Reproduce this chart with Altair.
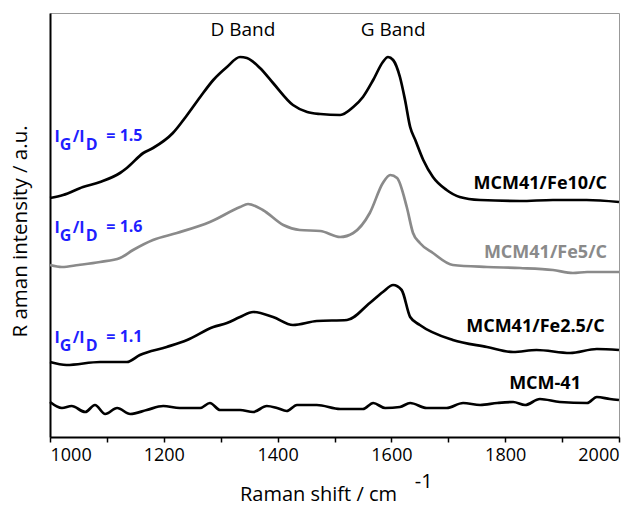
import altair as alt
import pandas as pd

FONT = "Open Sans"

# ---- spectra (x: Raman shift cm-1, y: intensity a.u., offset stacked) ----
fe10_x = [1000,1023,1058,1088,1123,1135,1164,1181,1216,1241,1264,1287,1311,1334,1346,1369,1392,1427,1452,1475,
          1510,1533,1550,1568,1585,1594,1603,1615,1624,1633,1642,1656,1673,1697,1720,1756,1826,1884,1943,2000]
fe10_y = [239,242,250,255,264,269,284,289,304,322,340,357,370,380,379,369,354,332,325,323,
          322,330,340,357,375,380,377,360,337,310,297,277,260,247,240,237,236,237,237,235]

fe5_x = [1000,1021,1050,1088,1123,1146,1181,1223,1281,1334,1348,1374,1410,1439,1475,1510,1533,1562,1585,1598,
         1610,1627,1638,1650,1673,1708,1768,1826,1884,1919,1944,2000]
fe5_y = [172,170,172,175,179,187,197,204,215,230,233,227,212,207,206,200,204,224,254,262,
         259,230,204,194,184,172,170,169,167,164,165,165]

fe25_x = [1000,1029,1088,1135,1158,1205,1241,1287,1311,1334,1357,1392,1427,1469,1522,1562,1585,1603,1618,1633,
          1650,1708,1768,1814,1855,1914,1961,2000]
fe25_y = [75,72,75,75,82,90,97,110,114,120,125,120,112,116,117,134,145,152,147,120,
          112,97,90,85,87,84,88,87]

mcm_x = [1000,1021,1038,1062,1079,1097,1118,1141,1170,1199,1228,1264,1281,1299,1334,1357,1381,1399,1416,1434,
         1469,1510,1550,1568,1589,1615,1633,1662,1697,1726,1756,1786,1814,1835,1861,1896,1944,1961,1984,2000]
mcm_y = [35,29,31,25,32,23,29,23,27,31,29,29,34,27,27,25,31,29,26,32,
         32,28,28,34,29,30,34,29,29,34,32,34,35,32,38,35,34,40,38,37]

series_names = ["MCM41/Fe10/C", "MCM41/Fe5/C", "MCM41/Fe2.5/C", "MCM-41"]
series_colors = ["#000000", "#8a8a8a", "#000000", "#000000"]

rows = []
for name, xs, ys in zip(series_names, [fe10_x, fe5_x, fe25_x, mcm_x], [fe10_y, fe5_y, fe25_y, mcm_y]):
    for i, (a, b) in enumerate(zip(xs, ys)):
        rows.append({"series": name, "shift": a, "intensity": b, "order": i})
spec = pd.DataFrame(rows)

# ---- annotations ----
band_text = ["D Band", "G Band"]
band_x = [1339, 1603]
band_y = [401, 401]

lab_text = ["MCM41/Fe10/C", "MCM41/Fe5/C", "MCM41/Fe2.5/C"]
lab_x = [1979, 1979, 1975]
lab_y = [248, 179, 105]
lab_col = ["#000000", "#8a8a8a", "#000000"]

mcm_lab = pd.DataFrame({"t": ["MCM-41"], "x": [1870], "y": [48]})

ratio_vals = ["= 1.5", "= 1.6", "= 1.1"]
ratio_base = [295, 204, 94]

main_rows, sub_rows, val_rows = [], [], []
for v, b in zip(ratio_vals, ratio_base):
    main_rows += [{"t": "I", "x": 1008, "y": b}, {"t": "/I", "x": 1040, "y": b}]
    sub_rows += [{"t": "G", "x": 1017, "y": b - 8}, {"t": "D", "x": 1063, "y": b - 8}]
    val_rows += [{"t": v, "x": 1099, "y": b + 1}]

xscale = alt.Scale(domain=[1000, 2000], nice=False, zero=False)
yscale = alt.Scale(domain=[0, 424], nice=False, zero=False)

lines = alt.Chart(spec).mark_line(strokeWidth=2.7, interpolate="monotone").encode(
    x=alt.X("shift:Q", scale=xscale,
            axis=alt.Axis(values=list(range(1000, 2001, 100)), format="d",
                          labelExpr="datum.value % 200 == 0 ? datum.label : ''",
                          grid=False, tickSize=5, tickColor="black", tickWidth=1.5,
                          domainColor="black", domainWidth=2,
                          labelFont=FONT, labelFontSize=18, labelColor="black", labelPadding=4,
                          title="Raman shift / cm", titleFont=FONT, titleFontSize=20,
                          titleFontWeight="normal", titleColor="black",
                          titleX=268, titleY=63, titleBaseline="alphabetic", titleAlign="center")),
    y=alt.Y("intensity:Q", scale=yscale,
            axis=alt.Axis(labels=False, ticks=False, grid=False,
                          domainColor="black", domainWidth=2,
                          title="R aman intensity / a.u.", titleFont=FONT, titleFontSize=20.5,
                          titleFontWeight="normal", titleColor="black", titleAngle=270,
                          titleX=-24, titleY=218, titleBaseline="alphabetic", titleAlign="center")),
    color=alt.Color("series:N", scale=alt.Scale(domain=series_names, range=series_colors), legend=None),
    order="order:Q",
)

bands = alt.Chart(pd.DataFrame({"t": band_text, "x": band_x, "y": band_y})).mark_text(
    font=FONT, fontSize=19, color="black", align="center", baseline="alphabetic"
).encode(x=alt.X("x:Q", scale=xscale), y=alt.Y("y:Q", scale=yscale), text="t:N")

labels = alt.Chart(pd.DataFrame({"t": lab_text, "x": lab_x, "y": lab_y, "c": lab_col})).mark_text(
    font=FONT, fontSize=18, fontWeight="bold", align="right", baseline="alphabetic"
).encode(x=alt.X("x:Q", scale=xscale), y=alt.Y("y:Q", scale=yscale), text="t:N",
         color=alt.Color("c:N", scale=None))

mcm_text = alt.Chart(mcm_lab).mark_text(
    font=FONT, fontSize=18, fontWeight="bold", align="center", baseline="alphabetic", color="black"
).encode(x=alt.X("x:Q", scale=xscale), y=alt.Y("y:Q", scale=yscale), text="t:N")

BLUE = "#1f1fff"
r_main = alt.Chart(pd.DataFrame(main_rows)).mark_text(
    font=FONT, fontSize=16, fontWeight="bold", align="left", baseline="alphabetic", color=BLUE
).encode(x=alt.X("x:Q", scale=xscale), y=alt.Y("y:Q", scale=yscale), text="t:N")
r_sub = alt.Chart(pd.DataFrame(sub_rows)).mark_text(
    font=FONT, fontSize=16, fontWeight="bold", align="left", baseline="alphabetic", color=BLUE
).encode(x=alt.X("x:Q", scale=xscale), y=alt.Y("y:Q", scale=yscale), text="t:N")
r_val = alt.Chart(pd.DataFrame(val_rows)).mark_text(
    font=FONT, fontSize=16, fontWeight="bold", align="left", baseline="alphabetic", color=BLUE
).encode(x=alt.X("x:Q", scale=xscale), y=alt.Y("y:Q", scale=yscale), text="t:N")

sup = alt.Chart(pd.DataFrame({"t": ["-1"], "x": [1641], "y": [-51]})).mark_text(
    font=FONT, fontSize=20, align="left", baseline="alphabetic", color="black"
).encode(x=alt.X("x:Q", scale=xscale), y=alt.Y("y:Q", scale=yscale), text="t:N")

chart = alt.layer(lines, bands, labels, mcm_text, r_main, r_sub, r_val, sup).properties(
    width=569, height=424,
    autosize=alt.AutoSizeParams(type="none"),
    padding={"left": 50, "top": 13, "right": 22, "bottom": 70},
    background="white",
).configure_view(stroke="#999999", strokeWidth=1)

chart.save("out.html", embed_options={"renderer": "svg", "actions": False})
